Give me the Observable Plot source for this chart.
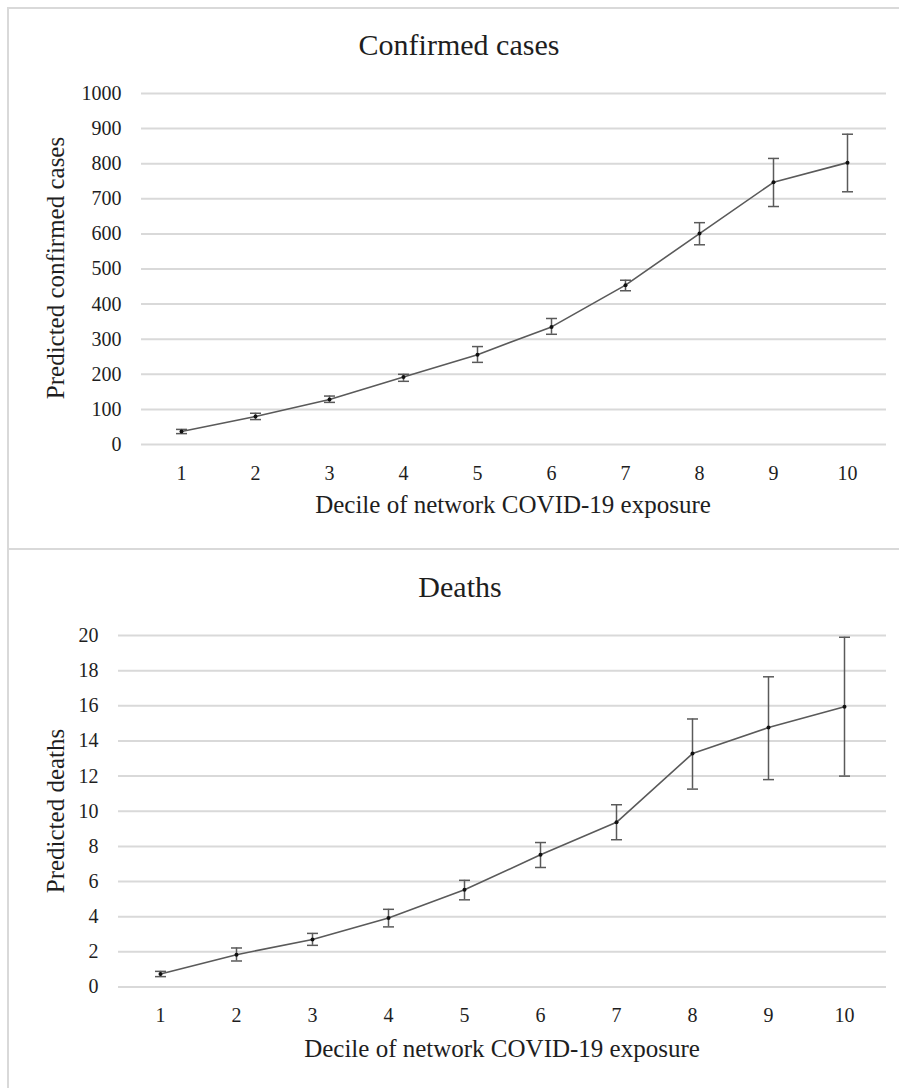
<!DOCTYPE html>
<html><head><meta charset="utf-8">
<script src="https://cdn.jsdelivr.net/npm/d3@7"></script>
<script src="https://cdn.jsdelivr.net/npm/@observablehq/plot@0.6"></script>
<style>
body{margin:0;background:#fff;}
#page{position:relative;width:899px;height:1088px;overflow:hidden;font-family:"Liberation Serif","Times New Roman",serif;color:#1e1e1e;background:#fff;}
.fl{position:absolute;background:#d9d9d9;}
.t{position:absolute;white-space:nowrap;line-height:1;transform:translateX(-50%);}
.title{font-size:30px;}
.xl{font-size:25px;}
.yl{font-size:25px;transform:translate(-50%,-50%) rotate(-90deg);}
.chart{position:absolute;left:0;}
</style></head><body>
<div id="page">
  <div class="fl" style="left:7px;top:7px;width:892px;height:2px"></div>
  <div class="fl" style="left:7px;top:7px;width:2px;height:1081px"></div>
  <div class="fl" style="left:7px;top:548px;width:892px;height:2px"></div>
  <div class="t title" id="t1" style="left:459px;top:30px"></div>
  <div class="t xl" id="x1" style="left:513px;top:492px"></div>
  <div class="t yl" id="y1" style="left:55px;top:268px"></div>
  <div class="chart" id="c1" style="top:60px"></div>
  <div class="t title" id="t2" style="left:460px;top:572px"></div>
  <div class="t xl" id="x2" style="left:502px;top:1036px"></div>
  <div class="t yl" id="y2" style="left:55px;top:811px"></div>
  <div class="chart" id="c2" style="top:605px"></div>
</div>
<script>
const deciles = [1, 2, 3, 4, 5, 6, 7, 8, 9, 10];
const cases = [37, 80, 128, 192, 256, 335, 454, 601, 747, 803];
const casesLow = [31, 71, 120, 180, 234, 314, 438, 569, 678, 720];
const casesHigh = [43, 89, 138, 200, 279, 359, 468, 632, 815, 884];
const caseTicks = [0, 100, 200, 300, 400, 500, 600, 700, 800, 900, 1000];

const deaths = [0.74, 1.84, 2.70, 3.93, 5.53, 7.52, 9.37, 13.28, 14.76, 15.95];
const deathsLow = [0.59, 1.48, 2.37, 3.42, 4.96, 6.80, 8.38, 11.26, 11.80, 12.00];
const deathsHigh = [0.89, 2.22, 3.05, 4.42, 6.07, 8.22, 10.37, 15.25, 17.65, 19.90];
const deathTicks = [0, 2, 4, 6, 8, 10, 12, 14, 16, 18, 20];

const titleCases = "Confirmed cases";
const titleDeaths = "Deaths";
const xTitle = "Decile of network COVID-19 exposure";
const yTitleCases = "Predicted confirmed cases";
const yTitleDeaths = "Predicted deaths";

document.getElementById("t1").textContent = titleCases;
document.getElementById("t2").textContent = titleDeaths;
document.getElementById("x1").textContent = xTitle;
document.getElementById("x2").textContent = xTitle;
document.getElementById("y1").textContent = yTitleCases;
document.getElementById("y2").textContent = yTitleDeaths;

const lineColor = "#5a5a5a";
const gridColor = "#d9d9d9";

// horizontal cap symbol for error bars
const capSymbol = {draw(context) { context.moveTo(-5.5, 0); context.lineTo(5.5, 0); }};

function makeChart(values, lows, highs, ticks, dims) {
  const rows = deciles.map((d, i) => ({decile: d, value: values[i], low: lows[i], high: highs[i]}));
  return Plot.plot({
    width: 899,
    height: dims.height,
    marginLeft: dims.marginLeft,
    marginRight: 13,
    marginTop: dims.marginTop,
    marginBottom: dims.marginBottom,
    style: {fontFamily: "'Liberation Serif','Times New Roman',serif", fontSize: "20px", color: "#1e1e1e", background: "transparent"},
    x: {type: "point", domain: deciles, padding: 0.5, tickSize: 0, tickPadding: 21, label: null},
    y: {domain: [ticks[0], ticks[ticks.length - 1]], ticks: ticks, tickSize: 0, tickPadding: 20, label: null, tickFormat: d => String(d)},
    marks: [
      Plot.ruleY(ticks, {stroke: gridColor, strokeWidth: 2}),
      Plot.ruleX(rows, {x: "decile", y1: "low", y2: "high", stroke: lineColor, strokeWidth: 1.5}),
      Plot.dot(rows, {x: "decile", y: "low", symbol: capSymbol, fill: "none", stroke: lineColor, strokeWidth: 1.5}),
      Plot.dot(rows, {x: "decile", y: "high", symbol: capSymbol, fill: "none", stroke: lineColor, strokeWidth: 1.5}),
      Plot.line(rows, {x: "decile", y: "value", stroke: lineColor, strokeWidth: 1.6}),
      Plot.dot(rows, {x: "decile", y: "value", r: 2, fill: "#111"})
    ]
  });
}

document.getElementById("c1").appendChild(
  makeChart(cases, casesLow, casesHigh, caseTicks, {height: 470, marginLeft: 141, marginTop: 33, marginBottom: 86})
);
document.getElementById("c2").appendChild(
  makeChart(deaths, deathsLow, deathsHigh, deathTicks, {height: 483, marginLeft: 118, marginTop: 30, marginBottom: 101.5})
);
</script>
</body></html>
